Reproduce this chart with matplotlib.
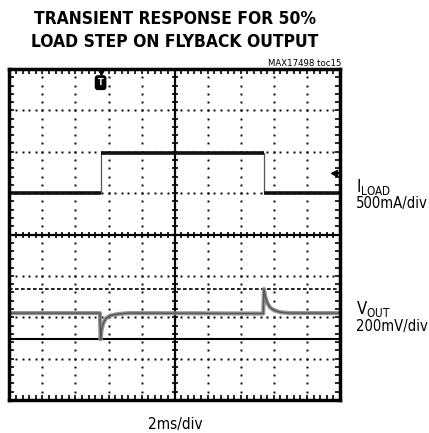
import numpy as np
import matplotlib
matplotlib.use("Agg")
import matplotlib.pyplot as plt
from matplotlib.ticker import MultipleLocator

plt.rcParams['font.family'] = ['DejaVu Sans']
plt.rcParams['font.stretch'] = 'condensed'
plt.rcParams['mathtext.fontset'] = 'custom'
plt.rcParams['mathtext.rm'] = 'DejaVu Sans:stretch=condensed'

# screen in divisions: 10 across, 8 down
# ILOAD trace (div): low / high levels and the step edges
iload_t = [0.0, 2.76, 2.76, 7.70, 7.70, 10.0]
iload_v = [5.0, 5.0, 5.96, 5.96, 5.0, 5.0]

# VOUT trace (div)
vout_t = [0.0, 2.74, 2.76, 2.79, 2.84, 2.92, 3.05, 3.30, 3.60,
          7.68, 7.70, 7.74, 7.80, 7.88, 8.00, 8.20, 8.50, 10.0]
vout_v = [2.10, 2.10, 1.47, 1.70, 1.85, 1.97, 2.04, 2.08, 2.10,
          2.09, 2.68, 2.50, 2.35, 2.24, 2.17, 2.12, 2.10, 2.10]

cursor_hi = 2.68   # dashed cursor
cursor_lo = 1.47   # solid cursor
trig_t = 2.76
ch1_ref = 5.48

fig = plt.figure(figsize=(4.29, 4.33), dpi=100)
ax = fig.add_axes([9.3 / 429, 1 - 400 / 433, 330.7 / 429, 331 / 433])
ax.set_xlim(0, 10)
ax.set_ylim(0, 8)

# dotted graticule
minor = np.arange(0, 10.01, 0.2)
for gy in [1, 2, 3, 5, 6, 7]:
    ax.plot(minor, np.full_like(minor, gy), ls='none', marker='s', ms=1.4,
            color='black', mew=0)
minor_y = np.arange(0, 8.01, 0.2)
for gx in [1, 2, 3, 4, 6, 7, 8, 9]:
    ax.plot(np.full_like(minor_y, gx), minor_y, ls='none', marker='s', ms=1.4,
            color='black', mew=0)

# centre cross with minor ticks
ax.axhline(4, color='black', lw=1.6)
ax.axvline(5, color='black', lw=1.6)
ax.plot(minor, np.full_like(minor, 4), ls='none', marker='|', ms=5,
        mew=1.2, color='black')
ax.plot(np.full_like(minor_y, 5), minor_y, ls='none', marker='_', ms=5,
        mew=1.2, color='black')

# cursors
ax.axhline(cursor_hi, color='black', lw=1.2, ls=(0, (2.2, 1.4)))
ax.axhline(cursor_lo, color='black', lw=1.5)

# traces
ax.plot(iload_t, iload_v, color='#555555', lw=0.9)
for a, b, lev in [(0, 2.76, 5.0), (2.76, 7.70, 5.96), (7.70, 10, 5.0)]:
    ax.plot([a, b], [lev, lev], color='#111111', lw=2.6, solid_capstyle='butt')

ax.plot(vout_t, vout_v, color='#8a8a8a', lw=3.0, alpha=0.9)
ax.plot(vout_t, vout_v, color='#555555', lw=1.0)

# trigger and channel markers
ax.plot([trig_t], [7.93], marker='v', ms=5, color='black')
ax.text(trig_t, 7.67, 'T', ha='center', va='center', color='white',
        fontsize=6.5, fontweight='bold',
        bbox=dict(boxstyle='round,pad=0.25', fc='black', ec='black'))
ax.plot([9.82], [ch1_ref], marker='<', ms=5, color='black')
ax.plot([9.82, 9.97], [ch1_ref, ch1_ref], color='black', lw=1.5)

# border and edge ticks
for s in ax.spines.values():
    s.set_linewidth(2.5)
ax.xaxis.set_major_locator(MultipleLocator(1))
ax.xaxis.set_minor_locator(MultipleLocator(0.2))
ax.yaxis.set_major_locator(MultipleLocator(1))
ax.yaxis.set_minor_locator(MultipleLocator(0.2))
ax.tick_params(which='both', direction='in', top=True, right=True,
               length=3.5, width=1.2, labelbottom=False, labelleft=False)

# text
def px(x, y):
    return x / 429, 1 - y / 433

fig.text(*px(175, 24), 'TRANSIENT RESPONSE FOR 50%', ha='center',
         va='baseline', fontsize=12.5, fontweight='bold')
fig.text(*px(175, 47), 'LOAD STEP ON FLYBACK OUTPUT', ha='center',
         va='baseline', fontsize=12.5, fontweight='bold')
fig.text(*px(341, 66), 'MAX17498 toc15', ha='right', va='baseline',
         fontsize=6.8)
fig.text(*px(356, 192), r'$\mathregular{I_{LOAD}}$', ha='left',
         va='baseline', fontsize=12)
fig.text(*px(356, 208), '500mA/div', ha='left', va='baseline', fontsize=10.6)
fig.text(*px(356, 314), r'$\mathregular{V_{OUT}}$', ha='left',
         va='baseline', fontsize=12)
fig.text(*px(356, 331), '200mV/div', ha='left', va='baseline', fontsize=10.6)
fig.text(*px(175, 429), '2ms/div', ha='center', va='baseline', fontsize=11)

fig.savefig('out.png', dpi=100)
